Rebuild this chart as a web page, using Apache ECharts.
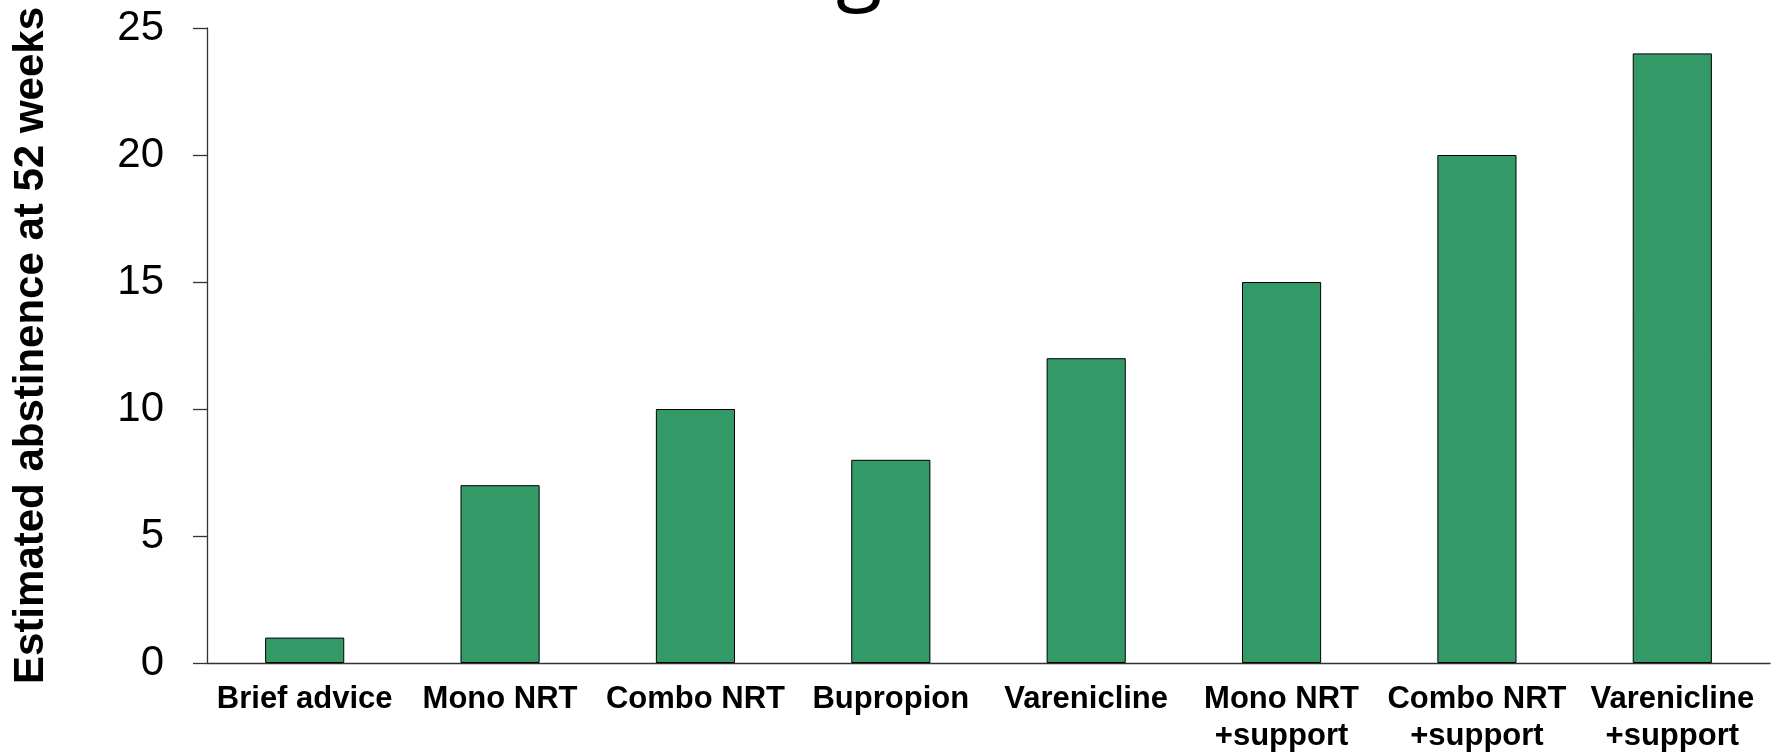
<!DOCTYPE html>
<html>
<head>
<meta charset="utf-8">
<script src="https://cdn.jsdelivr.net/npm/echarts@6/dist/echarts.min.js"></script>
<style>
html,body{margin:0;padding:0;background:#fff;}
#main{width:1779px;height:754px;}
</style>
</head>
<body>
<div id="main"></div>
<script>
// treatments along the x axis
var categories = ['Brief advice', 'Mono NRT', 'Combo NRT', 'Bupropion', 'Varenicline',
    'Mono NRT\n+support', 'Combo NRT\n+support', 'Varenicline\n+support'];
// estimated abstinence (%) at 52 weeks
var abstinence = [1, 7, 10, 8, 12, 15, 20, 24];
var yTicks = [0, 5, 10, 15, 20, 25];

var arial = "'Liberation Sans', Arial, sans-serif";

var chart = echarts.init(document.getElementById('main'));
var option = {
    animation: false,
    backgroundColor: '#fff',
    // slide title, cut off at the top of the picture
    title: {
        text: 'g',
        left: 831,
        top: -78,
        textStyle: {
            fontFamily: "'Open Sans', sans-serif",
            fontWeight: 'normal',
            fontSize: 85,
            color: '#000'
        }
    },
    grid: {
        left: 207,
        right: 9,
        top: 28,
        bottom: 91,
        outerBoundsMode: 'none'
    },
    xAxis: {
        type: 'category',
        data: categories,
        axisLine: {lineStyle: {color: '#333', width: 1.3}},
        axisTick: {length: 10, lineStyle: {color: '#333', width: 1.3}},
        axisLabel: {
            interval: 0,
            margin: 18,
            fontFamily: arial,
            fontWeight: 'bold',
            fontSize: 31,
            lineHeight: 37,
            color: '#000'
        }
    },
    yAxis: {
        type: 'value',
        min: yTicks[0],
        max: yTicks[yTicks.length - 1],
        interval: 5,
        name: 'Estimated abstinence at 52 weeks',
        nameLocation: 'middle',
        nameGap: 155,
        nameTextStyle: {
            fontFamily: arial,
            fontWeight: 'bold',
            fontSize: 42,
            color: '#000'
        },
        splitLine: {show: false},
        axisLine: {show: true, lineStyle: {color: '#333', width: 1.3}},
        axisTick: {show: true, length: 14, lineStyle: {color: '#333', width: 1.3}},
        axisLabel: {
            margin: 43,
            fontFamily: arial,
            fontSize: 42,
            color: '#000'
        }
    },
    series: [{
        type: 'bar',
        data: abstinence,
        barCategoryGap: '59.5%',
        itemStyle: {
            color: '#339966',
            borderColor: '#000',
            borderWidth: 1
        }
    }]
};
chart.setOption(option);
</script>
</body>
</html>
